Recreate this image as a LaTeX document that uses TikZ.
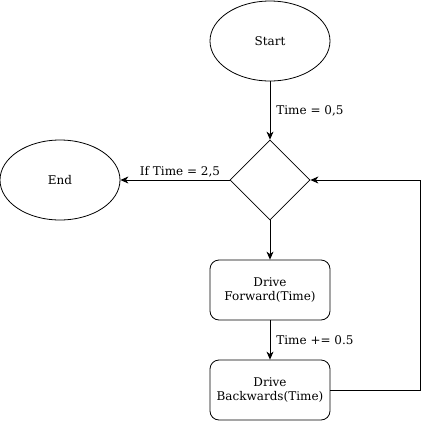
\documentclass[tikz,border=0pt]{standalone}
\usepackage{fontspec}
\setmainfont{DejaVu Serif}
\usetikzlibrary{shapes.geometric,arrows.meta}

\begin{document}
\begin{tikzpicture}[x=1pt,y=-1pt,
	every node/.style={font=\fontsize{12}{14}\selectfont},
	terminal/.style={draw,ellipse,line width=0.8pt,minimum width=120pt,minimum height=80pt,inner sep=0pt},
	decision/.style={draw,diamond,line width=0.8pt,minimum width=80pt,minimum height=80pt,inner sep=0pt},
	process/.style={draw,rectangle,rounded corners=9pt,line width=0.8pt,minimum width=120pt,minimum height=60pt,align=center,inner sep=0pt},
	flow/.style={line width=0.8pt,-{Stealth[length=8pt,width=7pt,inset=2.5pt]}},
	tag/.style={inner sep=1pt}]
	\useasboundingbox (0,0) rectangle (429,421);
	\node[terminal] (start) at (270,41) {Start};
	\node[decision] (check) at (270,180) {};
	\node[terminal] (finish) at (60,180) {End};
	\node[process] (forward) at (270,290) {Drive\\Forward(Time)};
	\node[process] (backward) at (270,390) {Drive\\Backwards(Time)};
	%\draw[step=10, gray, opacity=0.3](0,0)grid(429,421);
	\draw[flow](start)--node[tag,right=5pt]{Time = 0,5}(check);
	\draw[flow](check.west)--node[tag,above=1pt,xshift=5pt]{If Time = 2,5}(finish.east);
	\draw[flow](check)--(forward);
	\draw[flow](forward)--node[tag,right=5pt]{Time += 0.5}(backward);
	\draw[flow](backward.east)--++(90,0)|-(check.east);
\end{tikzpicture}
\end{document}
